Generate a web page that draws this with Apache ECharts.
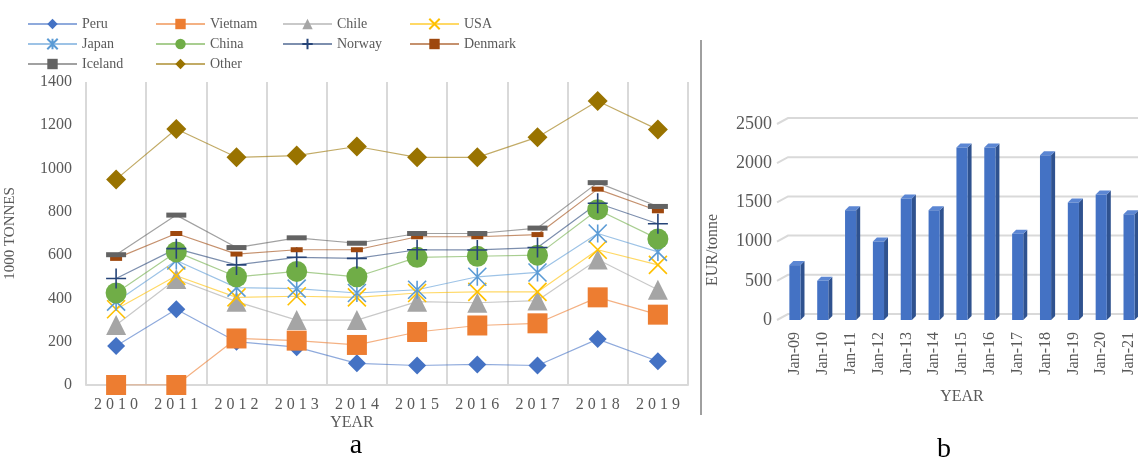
<!DOCTYPE html>
<html>
<head>
<meta charset="utf-8">
<script src="https://cdn.jsdelivr.net/npm/echarts@6/dist/echarts.min.js"></script>
<style>
    html, body { margin: 0; padding: 0; background: #fff; }
    #main { width: 1138px; height: 462px; }
</style>
</head>
<body>
<div id="main"></div>
<script>
// panel a: production by country, 1000 tonnes
var years = ['2010', '2011', '2012', '2013', '2014', '2015', '2016', '2017', '2018', '2019'];
var peru = [180, 350, 200, 175, 100, 90, 95, 90, 212, 110];
var vietnam = [0, 0, 215, 205, 185, 245, 275, 285, 405, 325];
var chile = [277, 490, 385, 300, 300, 385, 380, 390, 580, 440];
var usa = [350, 505, 405, 410, 405, 425, 430, 430, 625, 555];
var japan = [385, 575, 450, 445, 425, 440, 500, 520, 700, 615];
var china = [425, 615, 500, 525, 500, 590, 595, 600, 810, 675];
var norway = [492, 630, 555, 590, 585, 625, 624, 635, 840, 745];
var denmark = [585, 700, 605, 625, 625, 685, 685, 695, 905, 805];
var iceland = [602, 785, 635, 680, 655, 700, 700, 725, 935, 825];
var other = [950, 1183, 1052, 1060, 1102, 1052, 1052, 1145, 1312, 1180];
var tonneTicks = [0, 200, 400, 600, 800, 1000, 1200, 1400];

// panel b: price, EUR/tonne
var months = ['Jan-09', 'Jan-10', 'Jan-11', 'Jan-12', 'Jan-13', 'Jan-14', 'Jan-15',
    'Jan-16', 'Jan-17', 'Jan-18', 'Jan-19', 'Jan-20', 'Jan-21'];
var price = [700, 500, 1400, 1000, 1550, 1400, 2200, 2200, 1100, 2100, 1500, 1600, 1350];
var priceTicks = [0, 500, 1000, 1500, 2000, 2500];

var serif = 'Liberation Serif';
var grey = '#595959';

var chart = echarts.init(document.getElementById('main'));

// one line series, excel style
function lineSeries(name, data, color, symbol, size, stroke) {
    var s = {
        name: name,
        type: 'line',
        xAxisIndex: 0,
        yAxisIndex: 0,
        data: data,
        symbol: symbol,
        symbolSize: size,
        showAllSymbol: true,
        lineStyle: { color: color, width: 1.2, opacity: 0.6 },
        itemStyle: { color: color }
    };
    if (stroke) {
        s.itemStyle = { color: color, borderColor: color, borderWidth: 1.6 };
    }
    return s;
}

var crossPath = 'path://M0,0L10,10M10,0L0,10';
var starPath = 'path://M0,0L10,10M10,0L0,10M5,0L5,10';
var plusPath = 'path://M5,0L5,10M0,5L10,5';

function plain(v) { return String(v); }

// 3d bar: front face, side, top
function renderBar(params, api) {
    var idx = api.value(0);
    var top = api.coord([idx, api.value(1)]);
    var base = api.coord([idx, 0]);
    var w = api.size([1, 0])[0] * 0.4;
    var d = 4;
    var x = top[0] - w / 2;
    var y = top[1];
    var b = base[1];
    return {
        type: 'group',
        children: [
            { type: 'polygon', shape: { points: [[x + w, y], [x + w + d, y - d], [x + w + d, b - d], [x + w, b]] },
              style: { fill: '#2F528F' } },
            { type: 'polygon', shape: { points: [[x, y], [x + d, y - d], [x + w + d, y - d], [x + w, y]] },
              style: { fill: '#5B86D3' } },
            { type: 'rect', shape: { x: x, y: y, width: w, height: b - y }, style: { fill: '#4472C4' } }
        ]
    };
}

// back wall gridlines with the slanted floor stub
function renderGrid(params, api) {
    var cs = params.coordSys;
    var p = api.coord([0, api.value(1)]);
    var y = p[1];
    return {
        type: 'polyline',
        shape: { points: [[cs.x - 4, y], [cs.x + 7, y - 6], [cs.x + cs.width + 10, y - 6]] },
        style: { stroke: '#D9D9D9', lineWidth: 2, fill: null }
    };
}

function legendCol(left, names) {
    return {
        orient: 'vertical',
        left: left,
        top: 12,
        itemWidth: 49,
        itemHeight: 13,
        itemGap: 6,
        data: names,
        textStyle: { fontFamily: serif, fontSize: 14, color: grey, lineHeight: 14 }
    };
}

var option = {
    animation: false,
    backgroundColor: '#fff',
    legend: [
        legendCol(22, ['Peru', 'Japan', 'Iceland']),
        legendCol(150, ['Vietnam', 'China', 'Other']),
        legendCol(277, ['Chile', 'Norway']),
        legendCol(404, ['USA', 'Denmark'])
    ],
    grid: [
        { left: 86, right: 450, top: 82, bottom: 77, outerBoundsMode: 'none', containLabel: false },
        { left: 781, width: 362, top: 124, bottom: 142, outerBoundsMode: 'none', containLabel: false }
    ],
    xAxis: [
        {
            gridIndex: 0,
            type: 'category',
            data: years,
            boundaryGap: true,
            axisLine: { lineStyle: { color: '#D9D9D9', width: 2 } },
            axisTick: { show: false },
            splitLine: { show: true, lineStyle: { color: '#D9D9D9', width: 2 } },
            axisLabel: {
                margin: 12,
                fontFamily: serif,
                fontSize: 16,
                color: grey,
                formatter: function(v) { return v.split('').join(' '); }
            }
        },
        {
            gridIndex: 1,
            type: 'category',
            data: months,
            axisLine: { show: false },
            axisTick: { show: false },
            axisLabel: { rotate: 90, margin: 12, fontFamily: serif, fontSize: 16, color: grey }
        }
    ],
    yAxis: [
        {
            gridIndex: 0,
            type: 'value',
            min: 0,
            max: tonneTicks[tonneTicks.length - 1],
            interval: 200,
            name: '1000 TONNES',
            nameLocation: 'middle',
            nameGap: 68,
            nameTextStyle: { fontFamily: serif, fontSize: 15, color: grey },
            axisLine: { show: false },
            axisTick: { show: false },
            splitLine: { show: false },
            axisLabel: { margin: 14, fontFamily: serif, fontSize: 16, color: grey, formatter: plain }
        },
        {
            gridIndex: 1,
            type: 'value',
            min: 0,
            max: priceTicks[priceTicks.length - 1],
            interval: 500,
            axisLine: { show: false },
            axisTick: { show: false },
            splitLine: { show: false },
            axisLabel: { margin: 9, fontFamily: serif, fontSize: 18, color: grey, formatter: plain }
        }
    ],
    series: [
        lineSeries('Peru', peru, '#4472C4', 'diamond', 18),
        lineSeries('Vietnam', vietnam, '#ED7D31', 'rect', 20),
        lineSeries('Chile', chile, '#A5A5A5', 'triangle', 20),
        lineSeries('USA', usa, '#FFC000', crossPath, 18, true),
        lineSeries('Japan', japan, '#5B9BD5', starPath, 18, true),
        lineSeries('China', china, '#70AD47', 'circle', 21),
        lineSeries('Norway', norway, '#264478', plusPath, 20, true),
        lineSeries('Denmark', denmark, '#9E480E', 'rect', [12, 5]),
        lineSeries('Iceland', iceland, '#636363', 'rect', [20, 5]),
        lineSeries('Other', other, '#997300', 'diamond', 20),
        {
            type: 'custom',
            xAxisIndex: 1,
            yAxisIndex: 1,
            z: 1,
            renderItem: renderGrid,
            data: priceTicks.map(function(v) { return [0, v]; }),
            silent: true
        },
        {
            type: 'custom',
            xAxisIndex: 1,
            yAxisIndex: 1,
            z: 3,
            renderItem: renderBar,
            encode: { x: 0, y: 1 },
            data: price.map(function(v, i) { return [i, v]; })
        }
    ],
    graphic: [
        { type: 'line', shape: { x1: 701, y1: 40, x2: 701, y2: 415 }, style: { stroke: '#404040', lineWidth: 1 } },
        { type: 'text', x: 352, y: 423, style: { text: 'YEAR', fontFamily: serif, fontSize: 16, fill: grey, align: 'center', verticalAlign: 'middle' } },
        { type: 'text', x: 962, y: 397, style: { text: 'YEAR', fontFamily: serif, fontSize: 16, fill: grey, align: 'center', verticalAlign: 'middle' } },
        { type: 'text', x: 713, y: 250, rotation: Math.PI / 2, style: { text: 'EUR/tonne', fontFamily: serif, fontSize: 16, fill: grey, align: 'center', verticalAlign: 'middle' } },
        { type: 'text', x: 356, y: 446, style: { text: 'a', fontFamily: serif, fontSize: 28, fill: '#000', align: 'center', verticalAlign: 'middle' } },
        { type: 'text', x: 944, y: 450, style: { text: 'b', fontFamily: serif, fontSize: 28, fill: '#000', align: 'center', verticalAlign: 'middle' } }
    ]
};

chart.setOption(option);
</script>
</body>
</html>
